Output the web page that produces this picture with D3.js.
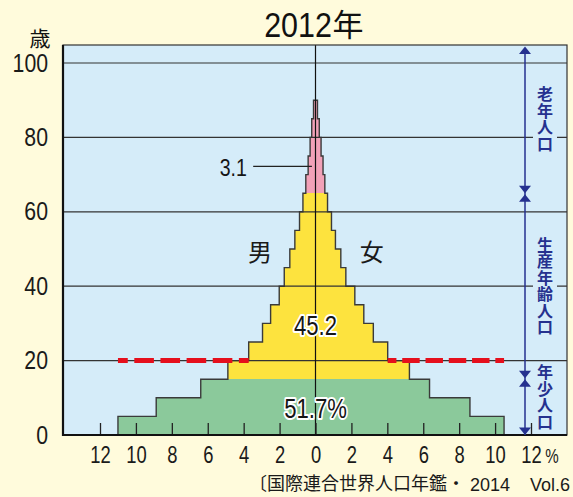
<!DOCTYPE html>
<html lang="ja">
<head>
<meta charset="UTF-8">
<title>2012年 人口ピラミッド</title>
<style>
  body { margin: 0; background: #fffbdc; }
  svg { display: block; }
  .num { font-family: "Liberation Sans", Arial, sans-serif; }
  .jp { font-family: "Noto Sans CJK JP", sans-serif; }
  .vert { writing-mode: vertical-rl; }
</style>
</head>
<body>
<div id="wrapper"></div>
<script src="https://d3js.org/d3.v7.min.js"></script>
<script>
// 年齢階級（5歳ごとの下限）
const ageGroups = [0, 5, 10, 15, 20, 25, 30, 35, 40, 45, 50, 55, 60, 65, 70, 75, 80, 85];
// 男女別の割合（％）
const male   = [11.0, 8.87, 6.39, 4.88, 3.72, 2.95, 2.50, 2.02, 1.74, 1.43, 1.15, 0.89, 0.70, 0.54, 0.41, 0.30, 0.21, 0.11];
const female = [10.5, 8.60, 6.35, 5.23, 4.02, 3.22, 2.69, 2.19, 1.69, 1.41, 1.11, 0.89, 0.67, 0.52, 0.42, 0.31, 0.21, 0.11];

const xTicks = [-12, -10, -8, -6, -4, -2, 0, 2, 4, 6, 8, 10, 12];
const yTicks = [0, 20, 40, 60, 80, 100];

// 年齢3区分
const sectionNames = ["年少人口", "生産年齢人口", "老年人口"];
const sectionBreaks = [0, 15, 65, 100];
const sectionShares = ["51.7%", "45.2", "3.1"];

const colors = { young: "#8bc99b", work: "#fde33e", old: "#f2a1b8", plot: "#d5ecf9", navy: "#25318f", red: "#e50f1c" };

const dimensions = {
  width: 573,
  height: 497,
  margin: { top: 45, right: 6, bottom: 62, left: 63 },
};
dimensions.boundedWidth = dimensions.width - dimensions.margin.left - dimensions.margin.right;
dimensions.boundedHeight = dimensions.height - dimensions.margin.top - dimensions.margin.bottom;

const svg = d3.select("#wrapper").append("svg")
  .attr("width", dimensions.width)
  .attr("height", dimensions.height);

svg.append("rect").attr("width", dimensions.width).attr("height", dimensions.height).attr("fill", "#fffbdc");

const bounds = svg.append("g")
  .attr("transform", `translate(${dimensions.margin.left},${dimensions.margin.top})`);

const xScale = d3.scaleLinear().domain([-12, 12]).range([37, 468]);
const yScale = d3.scaleLinear().domain([0, 100]).range([dimensions.boundedHeight, 18]);

// 細身の数字（横方向に縮める）
const narrowText = (parent, x, y, sx, str) => parent.append("text")
  .attr("class", "num")
  .attr("transform", `translate(${x},${y}) scale(${sx},1)`)
  .text(str);

bounds.append("rect")
  .attr("width", dimensions.boundedWidth)
  .attr("height", dimensions.boundedHeight)
  .attr("fill", colors.plot);

const rows = ageGroups.map((a, i) => ({ age: a, m: male[i], f: female[i] }));
const fillFor = (d) => d.age < sectionBreaks[1] ? colors.young : d.age < sectionBreaks[2] ? colors.work : colors.old;

// 棒
const barG = bounds.append("g").attr("shape-rendering", "crispEdges");
barG.selectAll(".m").data(rows).join("rect")
  .attr("x", d => xScale(-d.m))
  .attr("width", d => xScale(0) - xScale(-d.m))
  .attr("y", d => yScale(d.age + 5))
  .attr("height", d => yScale(d.age) - yScale(d.age + 5))
  .attr("fill", fillFor);
barG.selectAll(".f").data(rows).join("rect")
  .attr("x", xScale(0))
  .attr("width", d => xScale(d.f) - xScale(0))
  .attr("y", d => yScale(d.age + 5))
  .attr("height", d => yScale(d.age) - yScale(d.age + 5))
  .attr("fill", fillFor);

// 外形線
const outline = [];
rows.forEach(d => { outline.push([-d.m, d.age], [-d.m, d.age + 5]); });
rows.slice().reverse().forEach(d => { outline.push([d.f, d.age + 5], [d.f, d.age]); });
bounds.append("path")
  .attr("d", d3.line().x(p => xScale(p[0])).y(p => yScale(p[1]))(outline))
  .attr("fill", "none")
  .attr("stroke", "#3a3a3a")
  .attr("stroke-width", 1.4);

// 目盛線
bounds.append("g").selectAll("line").data(yTicks.filter(t => t > 0)).join("line")
  .attr("x1", 0).attr("x2", dimensions.boundedWidth)
  .attr("y1", d => yScale(d)).attr("y2", d => yScale(d))
  .attr("stroke", "#333")
  .attr("stroke-width", 1.2);

// 20歳の赤破線
const i20 = ageGroups.indexOf(20);
const dashSegs = [
  [xScale(-male[0]), xScale(-male[i20])],
  [xScale(female[i20]), xScale(female[0])],
];
bounds.append("g").selectAll("line").data(dashSegs).join("line")
  .attr("x1", d => d[0]).attr("x2", d => d[1])
  .attr("y1", yScale(20)).attr("y2", yScale(20))
  .attr("stroke", colors.red)
  .attr("stroke-width", 5)
  .attr("stroke-dasharray", d => { const p = (d[1] - d[0]) / 5; return `${0.75 * p} ${0.25 * p}`; })
  .attr("stroke-dashoffset", d => 0.375 * (d[1] - d[0]) / 5);

// 中央線
bounds.append("line")
  .attr("x1", xScale(0)).attr("x2", xScale(0))
  .attr("y1", 0).attr("y2", dimensions.boundedHeight)
  .attr("stroke", "#111").attr("stroke-width", 1.2);

// 枠
bounds.append("rect")
  .attr("width", dimensions.boundedWidth).attr("height", dimensions.boundedHeight)
  .attr("fill", "none").attr("stroke", "#333").attr("stroke-width", 1.2);

// X軸
const xAxis = bounds.append("g")
  .attr("class", "num")
  .attr("transform", `translate(0,${dimensions.boundedHeight})`)
  .call(d3.axisBottom(xScale).tickValues(xTicks).tickSizeInner(-12).tickSizeOuter(0).tickPadding(12)
    .tickFormat(d => Math.abs(d)));
xAxis.select(".domain").remove();
xAxis.selectAll(".tick line").attr("stroke", "#222").attr("stroke-width", 1.3);
xAxis.selectAll(".tick text")
  .attr("font-size", 23).attr("fill", "#1a1a1a").attr("font-family", null)
  .attr("transform", "scale(0.8,1)");
narrowText(xAxis, xScale(12) + 21, 28, 0.72, "%")
  .attr("font-size", 21).attr("fill", "#1a1a1a");

// Y軸
const ySx = 0.85;
const yAxis = bounds.append("g")
  .attr("class", "num")
  .call(d3.axisLeft(yScale).tickValues(yTicks).tickSize(0).tickPadding(15));
yAxis.select(".domain").remove();
yAxis.selectAll(".tick text")
  .attr("font-size", 25).attr("fill", "#1a1a1a").attr("font-family", null)
  .attr("x", -15 / ySx)
  .attr("transform", `scale(${ySx},1)`);

// 左・下の太線
bounds.append("path")
  .attr("d", `M0,0V${dimensions.boundedHeight}H${dimensions.boundedWidth}`)
  .attr("fill", "none").attr("stroke", "#111").attr("stroke-width", 2.2);

// 右側の区分矢印
const xA = dimensions.boundedWidth - 42;
const nav = bounds.append("g");
nav.append("line")
  .attr("x1", xA).attr("x2", xA)
  .attr("y1", yScale(100) - 14).attr("y2", dimensions.boundedHeight)
  .attr("stroke", colors.navy).attr("stroke-width", 1.5);
const tri = (tipY, dir) => `M${xA},${tipY}L${xA - 6},${tipY - dir * 7.5}L${xA + 6},${tipY - dir * 7.5}Z`;
const arrows = [tri(1.5, -1), tri(yScale(65), 1), tri(yScale(65) + 1, -1), tri(yScale(15) - 1, 1), tri(yScale(15), -1), tri(dimensions.boundedHeight, 1)];
nav.selectAll("path").data(arrows).join("path").attr("d", d => d).attr("fill", colors.navy);

const charH = 16.4;
const xLab = xA + 20;
sectionNames.forEach((name, i) => {
  const top = i === 2 ? 0 : yScale(sectionBreaks[i + 1]);
  const bottom = yScale(sectionBreaks[i]);
  const h = name.length * charH;
  const cy = Math.min((top + bottom) / 2, dimensions.boundedHeight - 5 - h / 2);
  // 目盛線を切る背景
  nav.append("rect")
    .attr("x", xLab - 12).attr("width", 24)
    .attr("y", cy - h / 2).attr("height", h)
    .attr("fill", colors.plot);
  nav.append("text")
    .attr("class", "jp vert")
    .attr("x", xLab).attr("y", cy)
    .attr("text-anchor", "middle")
    .attr("font-size", 16).attr("font-weight", 700)
    .attr("letter-spacing", charH - 16)
    .attr("fill", colors.navy)
    .text(name);
});

// 割合ラベル
const shareLabel = (x, y, str) => narrowText(bounds, x, y, 0.82, str)
  .attr("text-anchor", "middle").attr("font-size", 27).attr("fill", "#151515")
  .attr("stroke", "#fff").attr("stroke-width", 4).attr("paint-order", "stroke").attr("stroke-linejoin", "round");
shareLabel(xScale(0), yScale(4.6), sectionShares[0]);
shareLabel(xScale(0), yScale(26.9), sectionShares[1]);
narrowText(bounds, xScale(-3.82), yScale(69.6), 0.85, sectionShares[2])
  .attr("text-anchor", "end").attr("font-size", 23).attr("fill", "#151515");
bounds.append("line")
  .attr("x1", xScale(-3.47)).attr("x2", xScale(-0.2))
  .attr("y1", yScale(72.2)).attr("y2", yScale(72.2))
  .attr("stroke", "#222").attr("stroke-width", 1.2);

// 男・女
bounds.append("text").attr("class", "jp")
  .attr("x", xScale(-3.09)).attr("y", yScale(46.8))
  .attr("text-anchor", "middle").attr("font-size", 24).attr("fill", "#1a1a1a").text("男");
bounds.append("text").attr("class", "jp")
  .attr("x", xScale(3.13)).attr("y", yScale(46.8))
  .attr("text-anchor", "middle").attr("font-size", 24).attr("fill", "#1a1a1a").text("女");

// タイトル・単位・出典
narrowText(svg, 298, 37, 0.87, "2012")
  .attr("text-anchor", "middle").attr("font-size", 35).attr("fill", "#111");
svg.append("text").attr("class", "jp")
  .attr("x", 348).attr("y", 36)
  .attr("text-anchor", "middle").attr("font-size", 31).attr("fill", "#111")
  .text("年");
svg.append("text").attr("class", "jp")
  .attr("x", 40).attr("y", 46)
  .attr("text-anchor", "middle").attr("font-size", 21).attr("fill", "#111")
  .text("歳");
svg.append("text").attr("class", "jp")
  .attr("x", 249).attr("y", 490)
  .attr("font-size", 18).attr("fill", "#1a1a1a")
  .text("〔国際連合世界人口年鑑・");
svg.append("text").attr("class", "num")
  .attr("x", 470).attr("y", 491)
  .attr("font-size", 18).attr("fill", "#1a1a1a")
  .text("2014");
svg.append("text").attr("class", "num")
  .attr("x", 530).attr("y", 491)
  .attr("font-size", 18).attr("fill", "#1a1a1a")
  .text("Vol.6");
</script>
</body>
</html>
